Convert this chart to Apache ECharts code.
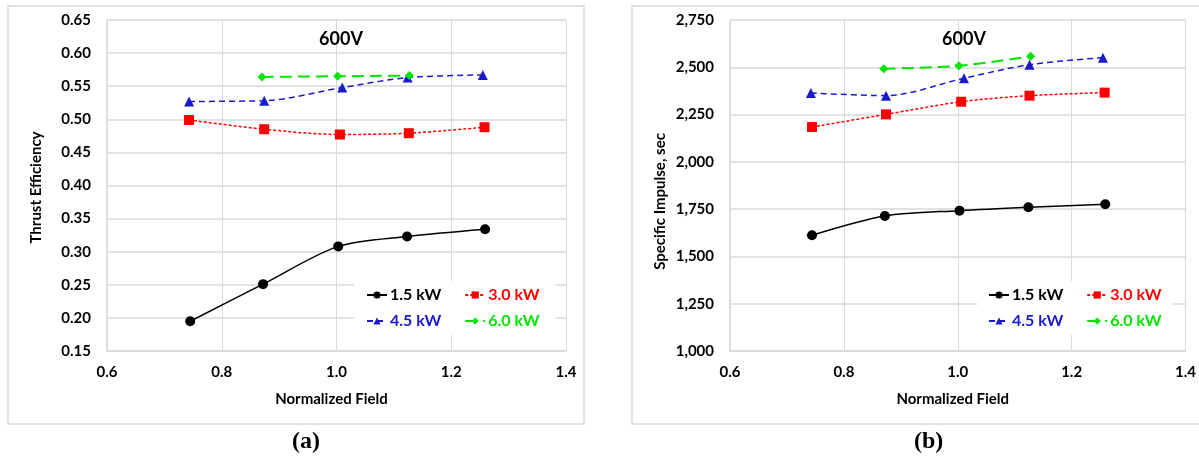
<!DOCTYPE html>
<html>
<head>
<meta charset="utf-8">
<script src="https://cdn.jsdelivr.net/npm/echarts@6/dist/echarts.min.js"></script>
<style>
html,body{margin:0;padding:0;background:#fff;}
#c{width:1199px;height:459px;}
</style>
</head>
<body>
<div id="c"></div>
<script>
// ---- Data ----
const seriesNames = ['1.5 kW', '3.0 kW', '4.5 kW', '6.0 kW'];
const xTicks = [0.6, 0.8, 1.0, 1.2, 1.4];

// (a) Thrust Efficiency
const effX_15 = [0.745, 0.872, 1.003, 1.123, 1.259];
const effY_15 = [0.195, 0.251, 0.308, 0.323, 0.334];
const effX_30 = [0.743, 0.874, 1.006, 1.126, 1.258];
const effY_30 = [0.499, 0.485, 0.477, 0.479, 0.488];
const effX_45 = [0.743, 0.874, 1.010, 1.124, 1.255];
const effY_45 = [0.527, 0.528, 0.548, 0.563, 0.567];
const effX_60 = [0.870, 1.002, 1.127];
const effY_60 = [0.564, 0.565, 0.566];

// (b) Specific Impulse, sec
const ispX_15 = [0.744, 0.872, 1.003, 1.124, 1.259];
const ispY_15 = [1612, 1714, 1742, 1760, 1776];
const ispX_30 = [0.744, 0.874, 1.006, 1.126, 1.258];
const ispY_30 = [2184, 2251, 2318, 2350, 2366];
const ispX_45 = [0.742, 0.874, 1.011, 1.126, 1.255];
const ispY_45 = [2364, 2350, 2442, 2514, 2551];
const ispX_60 = [0.870, 1.002, 1.128];
const ispY_60 = [2492, 2508, 2558];

const colors = ['#000000', '#ff0000', '#1a1acc', '#00e600'];
const symbols = ['circle', 'rect', 'triangle', 'diamond'];
const symbolSizes = [10, 10, 10, 9];
const dashes = ['solid', [3, 2], [6, 4], [12, 6]];
const widths = [1.5, 1.5, 1.5, 2];

const FONT = 'Lato';
const zip = (xs, ys) => xs.map((x, i) => [x, ys[i]]);

function makeSeries(idx, gridIdx, xs, ys) {
  return {
    name: seriesNames[idx],
    type: 'line',
    xAxisIndex: gridIdx,
    yAxisIndex: gridIdx,
    data: zip(xs, ys),
    smooth: 0.3,
    symbol: symbols[idx],
    symbolSize: symbolSizes[idx],
    itemStyle: { color: colors[idx] },
    lineStyle: { color: colors[idx], width: widths[idx], type: dashes[idx] },
    z: 3 + (idx === 3 ? 1 : 0)
  };
}

const commaFmt = v => String(Math.round(v)).replace(/\B(?=(\d{3})+(?!\d))/g, ',');
const gridColor = '#d9d9d9';

function xAxis(gridIdx) {
  return {
    type: 'value', gridIndex: gridIdx, min: 0.6, max: 1.4, interval: 0.2,
    name: 'Normalized Field', nameLocation: 'middle', nameGap: 41,
    nameTextStyle: { fontFamily: FONT, fontWeight: 'bold', fontSize: 15, color: '#000', padding: [0, 10, 0, 0] },
    axisLine: { show: true, lineStyle: { color: gridColor, width: 1.5 } },
    axisTick: { show: false },
    splitLine: { show: true, lineStyle: { color: gridColor, width: 1 } },
    axisLabel: { margin: 14, fontFamily: FONT, fontWeight: 'bold', fontSize: 15, color: '#000',
      formatter: v => v.toFixed(1) }
  };
}

function yAxis(gridIdx, opts) {
  return Object.assign({
    type: 'value', gridIndex: gridIdx, nameLocation: 'middle', nameRotate: 90,
    axisLine: { show: true, lineStyle: { color: gridColor, width: 1.5 } },
    axisTick: { show: false },
    splitLine: { show: true, lineStyle: { color: gridColor, width: 1.5 } },
  }, opts);
}

function legendRow(left, top, items) {
  return {
    left: left, top: top, orient: 'horizontal', padding: 0,
    itemWidth: 20, itemHeight: 9, itemGap: 23,
    textStyle: { fontFamily: FONT, fontWeight: 'bold', fontSize: 16, lineHeight: 18, padding: [0, 0, 0, -2] },
    data: items.map(i => ({ name: seriesNames[i], textStyle: { color: colors[i] } })),
    selectedMode: false
  };
}

const option = {
  animation: false,
  backgroundColor: '#ffffff',
  title: [
    { text: '600V', left: 336, top: 25, textAlign: 'center',
      textStyle: { fontFamily: FONT, fontWeight: 'bold', fontSize: 18, color: '#000' } },
    { text: '600V', left: 959, top: 25, textAlign: 'center',
      textStyle: { fontFamily: FONT, fontWeight: 'bold', fontSize: 18, color: '#000' } }
  ],
  grid: [
    { left: 107, top: 20, width: 459, height: 331 },
    { left: 730, top: 20, width: 459, height: 331 }
  ],
  xAxis: [xAxis(0), xAxis(1)],
  yAxis: [
    yAxis(0, { min: 0.15, max: 0.65, interval: 0.05,
      name: 'Thrust Efficiency', nameGap: 63,
      nameTextStyle: { fontFamily: FONT, fontWeight: 'bold', fontSize: 15, color: '#000', padding: [0, 4, 0, 0] },
      axisLabel: { margin: 16, fontFamily: FONT, fontWeight: 'bold', fontSize: 15, color: '#000',
        formatter: v => v.toFixed(2) } }),
    yAxis(1, { min: 1000, max: 2750, interval: 250,
      name: 'Specific Impulse, sec', nameGap: 62,
      nameTextStyle: { fontFamily: FONT, fontWeight: 'bold', fontSize: 15, color: '#000', padding: [0, 32, 0, 0] },
      axisLabel: { margin: 16, fontFamily: FONT, fontWeight: 'bold', fontSize: 15, color: '#000',
        formatter: commaFmt } })
  ],
  legend: [
    legendRow(366, 286, [0, 1]),
    legendRow(366, 312, [2, 3]),
    legendRow(988, 286, [0, 1]),
    legendRow(988, 312, [2, 3])
  ],
  graphic: [
    { type: 'rect', shape: { x: 8, y: 6, width: 576, height: 418 }, silent: true, z: -10,
      style: { fill: 'none', stroke: gridColor, lineWidth: 1.5 } },
    { type: 'rect', shape: { x: 632, y: 6, width: 600, height: 418 }, silent: true, z: -10,
      style: { fill: 'none', stroke: gridColor, lineWidth: 1.5 } },
    { type: 'rect', shape: { x: 354, y: 281, width: 202, height: 54 }, silent: true, z: 1,
      style: { fill: '#ffffff' } },
    { type: 'rect', shape: { x: 977, y: 281, width: 196, height: 54 }, silent: true, z: 1,
      style: { fill: '#ffffff' } },
    { type: 'text', left: 292, top: 430, silent: true,
      style: { text: '(a)', font: 'bold 24px "Liberation Serif"', fill: '#000' } },
    { type: 'text', left: 914, top: 430, silent: true,
      style: { text: '(b)', font: 'bold 24px "Liberation Serif"', fill: '#000' } }
  ],
  series: [
    makeSeries(0, 0, effX_15, effY_15),
    makeSeries(1, 0, effX_30, effY_30),
    makeSeries(2, 0, effX_45, effY_45),
    makeSeries(3, 0, effX_60, effY_60),
    makeSeries(0, 1, ispX_15, ispY_15),
    makeSeries(1, 1, ispX_30, ispY_30),
    makeSeries(2, 1, ispX_45, ispY_45),
    makeSeries(3, 1, ispX_60, ispY_60)
  ]
};

const chart = echarts.init(document.getElementById('c'), null, { renderer: 'canvas' });
chart.setOption(option);
</script>
</body>
</html>
